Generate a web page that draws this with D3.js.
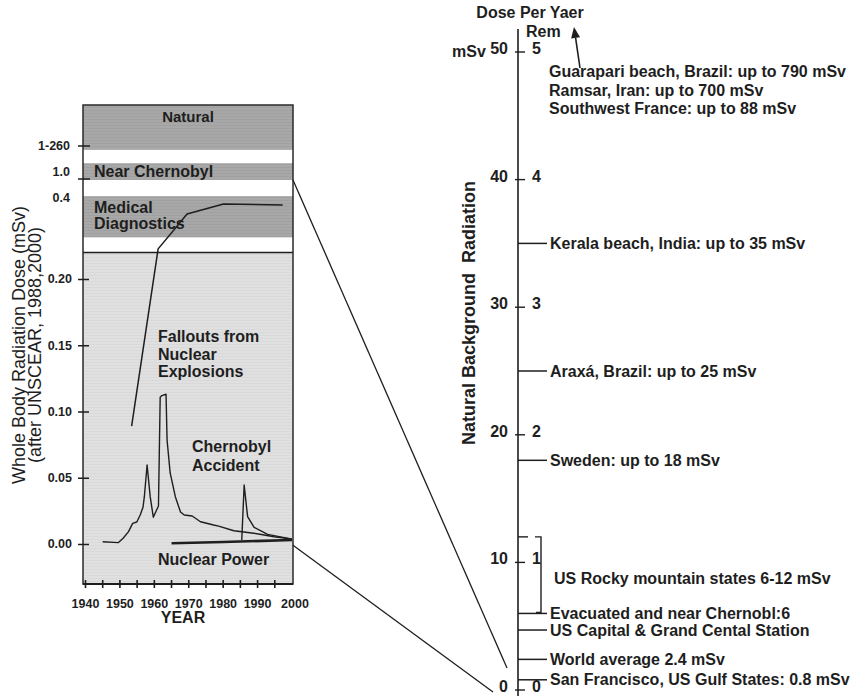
<!DOCTYPE html>
<html><head><meta charset="utf-8">
<script src="https://cdn.jsdelivr.net/npm/d3@7"></script>
<style>
body{margin:0;background:#fff}
svg{display:block;font-family:"Liberation Sans",Arial,Helvetica,sans-serif}
text{fill:#1e1e1e}
</style></head><body>
<svg id="c" width="856" height="696"></svg>
<script>
// ---------- DATA ----------
// Left panel: whole body dose (mSv) by year
const falloutYears = [1945, 1949.5, 1951, 1952.5, 1953.7, 1954.9, 1955.9, 1956.7, 1957.1, 1957.9, 1958.8, 1959.7, 1961.2, 1961.7, 1962.2, 1963.4, 1963.7, 1964.6, 1966.1, 1967.6, 1968.7, 1971, 1973.4, 1975.5, 1977.2, 1978.7, 1983.1, 1988.9, 1994.8, 2000];
const falloutDose  = [0.0017, 0.001, 0.0045, 0.0093, 0.0156, 0.0166, 0.0219, 0.0277, 0.0357, 0.0596, 0.0357, 0.0202, 0.0287, 0.1107, 0.112, 0.113, 0.0785, 0.0536, 0.0357, 0.0242, 0.0219, 0.0211, 0.0168, 0.0155, 0.0143, 0.0135, 0.0100, 0.0081, 0.0055, 0.0038];
const chernobylYears = [1985.4, 1986.1, 1987.1, 1989.0, 1992.9, 1997.8, 2000];
const chernobylDose  = [0.003, 0.0445, 0.0206, 0.0126, 0.0073, 0.0048, 0.0035];
const nuclearYears = [1965, 1980, 2000];
const nuclearDose  = [0.0005, 0.0015, 0.003];
const medicalYears = [1953.4, 1961.1, 1966.1, 1969.5, 1980.1, 1997.3];
const medicalDose  = [0.089, 0.232, 0.300, 0.347, 0.380, 0.377];
// Upper (broken-scale) dose bands
const bandNames = ["Natural", "Near Chernobyl", "Medical Diagnostics"];
const bandLo = [230, 0.97, 0.27];
const bandHi = [1000, 125, 0.46];
const lowerTicks = [0, 0.05, 0.10, 0.15, 0.20];
const upperTickValues = [260, 1.0, 0.4];
const upperTickLabels = ["1-260", "1.0", "0.4"];
const yearTicks = [1940, 1945, 1950, 1955, 1960, 1965, 1970, 1975, 1980, 1985, 1990, 1995];
const yearLabels = [1940, 1950, 1960, 1970, 1980, 1990, 2000];
// Right panel: natural background radiation (mSv per year)
const doseTicks = [0, 10, 20, 30, 40, 50];
const remLabels = ["0", "1", "2", "3", "4", "5"];
const siteNames = ["Kerala beach, India: up to 35 mSv", "Araxá, Brazil: up to 25 mSv", "Sweden: up to 18 mSv", "Evacuated and near Chernobl:6", "US Capital & Grand Cental Station", "World average 2.4 mSv", "San Francisco, US Gulf States: 0.8 mSv"];
const siteDose = [35, 25, 18, 6, 4.7, 2.4, 0.8];
const rockyRange = [6, 12];
const rockyLabel = "US Rocky mountain states 6-12 mSv";
const offScaleNotes = ["Guarapari beach, Brazil: up to 790 mSv", "Ramsar, Iran: up to 700 mSv", "Southwest France: up to 88 mSv"];

// ---------- SCALES ----------
const svg = d3.select("#c");
const ink = "#1e1e1e";
const xL = d3.scaleLinear().domain([1940, 2000]).range([85.5, 292]);
const yL = d3.scaleLinear().domain([-0.0302, 0.22, 0.4, 1.0, 260, 1000]).range([584, 252.5, 198, 179, 146, 105]);
const yR = d3.scaleLinear().domain([0, 50]).range([690, 52]);
const boxL = 83, boxR = 293;

// patterns
const defs = svg.append("defs");
function stripe(id, base, line) {
  const p = defs.append("pattern").attr("id", id).attr("width", 4).attr("height", 3).attr("patternUnits", "userSpaceOnUse");
  p.append("rect").attr("width", 4).attr("height", 3).attr("fill", base);
  p.append("rect").attr("y", 2).attr("width", 4).attr("height", 1).attr("fill", line);
}
stripe("lowP", "#e0e0e0", "#d9d9d9");
stripe("bandP", "#a8a8a8", "#a0a0a0");

// ---------- LEFT PANEL ----------
const left = svg.append("g");
left.append("rect").attr("x", boxL).attr("y", yL(1000)).attr("width", boxR - boxL).attr("height", yL(0.22) - yL(1000)).attr("fill", "#fff");
left.selectAll("rect.band").data(bandNames).join("rect").attr("class", "band")
  .attr("x", boxL).attr("width", boxR - boxL)
  .attr("y", (d, i) => yL(bandHi[i])).attr("height", (d, i) => yL(bandLo[i]) - yL(bandHi[i]))
  .attr("fill", "url(#bandP)");
left.append("rect").attr("x", boxL).attr("y", yL(0.22)).attr("width", boxR - boxL).attr("height", yL(-0.0302) - yL(0.22)).attr("fill", "url(#lowP)");
left.append("line").attr("x1", boxL).attr("x2", boxR).attr("y1", yL(0.22)).attr("y2", yL(0.22)).attr("stroke", ink).attr("stroke-width", 1.5);

// lines
const line = d3.line().x(d => xL(d[0])).y(d => yL(d[1]));
function series(xs, ys, w) {
  left.append("path").datum(xs.map((x, i) => [x, ys[i]])).attr("d", line)
    .attr("fill", "none").attr("stroke", ink).attr("stroke-width", w).attr("stroke-linejoin", "round");
}
series(nuclearYears, nuclearDose, 2.6);
series(falloutYears, falloutDose, 1.4);
series(chernobylYears, chernobylDose, 1.4);
series(medicalYears, medicalDose, 1.5);

// box border
left.append("rect").attr("x", boxL).attr("y", yL(1000)).attr("width", boxR - boxL).attr("height", yL(-0.0302) - yL(1000))
  .attr("fill", "none").attr("stroke", "#2a2a2a").attr("stroke-width", 1.5);
left.append("line").attr("x1", boxL).attr("x2", boxR).attr("y1", yL(-0.0302)).attr("y2", yL(-0.0302)).attr("stroke", ink).attr("stroke-width", 2.2);

// band labels
const bl = left.append("g").attr("font-weight", "bold");
bl.append("text").attr("x", (boxL + boxR) / 2).attr("y", 122).attr("text-anchor", "middle").attr("font-size", 15).text(bandNames[0]);
bl.append("text").attr("x", 94).attr("y", 177).attr("font-size", 16).text(bandNames[1]);
bl.append("text").attr("x", 94).attr("y", 212.5).attr("font-size", 16).text("Medical");
bl.append("text").attr("x", 94).attr("y", 229).attr("font-size", 16).text("Diagnostics");
bl.append("text").attr("x", 158).attr("y", 342).attr("font-size", 16).text("Fallouts from");
bl.append("text").attr("x", 158).attr("y", 359.5).attr("font-size", 16).text("Nuclear");
bl.append("text").attr("x", 158).attr("y", 377).attr("font-size", 16).text("Explosions");
bl.append("text").attr("x", 192).attr("y", 452).attr("font-size", 16).text("Chernobyl");
bl.append("text").attr("x", 192).attr("y", 470.5).attr("font-size", 16).text("Accident");
bl.append("text").attr("x", 158).attr("y", 565).attr("font-size", 16).text("Nuclear Power");

// left y axis
const ax = left.append("g").attr("transform", "translate(89,0)")
  .call(d3.axisLeft(yL).tickValues(lowerTicks).tickSize(11).tickPadding(6).tickFormat(d3.format(".2f")));
ax.select(".domain").remove();
ax.selectAll("line").attr("stroke", ink).attr("stroke-width", 1.5);
ax.selectAll("text").attr("font-size", 12.5).attr("font-weight", "bold").attr("font-family", "Liberation Sans, Arial, sans-serif").attr("fill", ink);
// upper labels
const up = left.append("g").attr("font-size", 12.5).attr("font-weight", "bold").attr("text-anchor", "end");
upperTickValues.forEach((v, i) => {
  const off = i === 0 ? 4 : (i === 1 ? -3 : 4);
  up.append("text").attr("x", 70).attr("y", yL(v) + off).text(upperTickLabels[i]);
  if (i < 2) left.append("line").attr("x1", 78).attr("x2", 90).attr("y1", yL(v)).attr("y2", yL(v)).attr("stroke", ink).attr("stroke-width", 1.5);
});

// x axis
left.selectAll("line.xt").data(yearTicks).join("line").attr("class", "xt")
  .attr("x1", d => xL(d)).attr("x2", d => xL(d)).attr("y1", 580).attr("y2", 588)
  .attr("stroke", ink).attr("stroke-width", 1.6);
left.selectAll("text.xl").data(yearLabels).join("text").attr("class", "xl")
  .attr("x", d => xL(d) + (d === 2000 ? 3 : 0)).attr("y", 607.5).attr("text-anchor", "middle")
  .attr("font-size", 12.5).attr("font-weight", "bold").text(d => d);
left.append("text").attr("x", 183).attr("y", 623).attr("text-anchor", "middle").attr("font-size", 16).attr("font-weight", "bold").text("YEAR");

// y titles
left.append("text").attr("transform", "translate(25,345) rotate(-90)").attr("text-anchor", "middle").attr("font-size", 18).text("Whole Body Radiation Dose (mSv)");
left.append("text").attr("transform", "translate(41,345) rotate(-90)").attr("text-anchor", "middle").attr("font-size", 18).text("(after UNSCEAR, 1988,2000)");

// ---------- CONNECTORS ----------
const axisX = 518;
svg.append("line").attr("x1", boxR).attr("y1", yL(0.97)).attr("x2", axisX - 11).attr("y2", yR(1.72)).attr("stroke", ink).attr("stroke-width", 1.3);
svg.append("line").attr("x1", boxR).attr("y1", yL(-0.001)).attr("x2", axisX - 25).attr("y2", yR(-0.16)).attr("stroke", ink).attr("stroke-width", 1.3);

// ---------- RIGHT PANEL ----------
const right = svg.append("g").attr("font-weight", "bold");
right.append("line").attr("x1", axisX).attr("x2", axisX).attr("y1", 29).attr("y2", 696).attr("stroke", ink).attr("stroke-width", 1.6);
right.selectAll("line.rt").data(doseTicks).join("line").attr("class", "rt")
  .attr("x1", axisX - 3).attr("x2", axisX + 7).attr("y1", d => yR(d)).attr("y2", d => yR(d)).attr("stroke", ink).attr("stroke-width", 1.4);
right.selectAll("text.ml").data(doseTicks).join("text").attr("class", "ml")
  .attr("x", 508).attr("y", d => yR(d) + 2).attr("text-anchor", "end").attr("font-size", 16).text(d => d);
right.selectAll("text.rl").data(doseTicks).join("text").attr("class", "rl")
  .attr("x", 532).attr("y", d => yR(d) + 2).attr("font-size", 16).text((d, i) => remLabels[i]);
right.append("text").attr("x", 452).attr("y", 57).attr("font-size", 16).text("mSv");
right.append("text").attr("x", 526).attr("y", 36.5).attr("font-size", 16).text("Rem");
right.append("text").attr("x", 530).attr("y", 18).attr("text-anchor", "middle").attr("font-size", 16).text("Dose Per Yaer");

// site markers
right.selectAll("line.site").data(siteDose).join("line").attr("class", "site")
  .attr("x1", axisX).attr("x2", axisX + 29).attr("y1", d => yR(d)).attr("y2", d => yR(d)).attr("stroke", ink).attr("stroke-width", 1.5);
right.selectAll("text.site").data(siteNames).join("text").attr("class", "site")
  .attr("x", 550).attr("y", (d, i) => yR(siteDose[i])).attr("dy", "0.35em").attr("font-size", 16).text(d => d);

// rocky bracket
right.append("line").attr("x1", axisX).attr("x2", axisX + 10).attr("y1", yR(rockyRange[1])).attr("y2", yR(rockyRange[1])).attr("stroke", ink).attr("stroke-width", 1.4);
right.append("path").attr("d", `M535,${yR(rockyRange[1])}H541V${yR(rockyRange[0]) - 1}H536`).attr("fill", "none").attr("stroke", ink).attr("stroke-width", 1.4);
right.append("text").attr("x", 554).attr("y", (yR(rockyRange[0]) + yR(rockyRange[1])) / 2 + 3).attr("dy", "0.35em").attr("font-size", 16).text(rockyLabel);

// off-scale notes + arrow
right.selectAll("text.note").data(offScaleNotes).join("text").attr("class", "note")
  .attr("x", 549).attr("y", (d, i) => 77 + i * 18.5).attr("font-size", 16).text(d => d);
const tail = [580, 68], tip = [574, 27];
const dx = tip[0] - tail[0], dy = tip[1] - tail[1], L = Math.hypot(dx, dy);
const ux = dx / L, uy = dy / L, hl = 11, hw = 4.5;
const bx = tip[0] - ux * hl, by = tip[1] - uy * hl;
right.append("line").attr("x1", tail[0]).attr("y1", tail[1]).attr("x2", bx).attr("y2", by).attr("stroke", ink).attr("stroke-width", 1.6);
right.append("path").attr("d", `M${tip[0]},${tip[1]}L${bx - uy * hw},${by + ux * hw}L${bx + uy * hw},${by - ux * hw}Z`).attr("fill", ink);

// vertical title
right.append("text").attr("transform", "translate(475,313) rotate(-90)").attr("text-anchor", "middle")
  .attr("font-size", 18).style("white-space", "pre").text("Natural Background  Radiation");
</script>
</body></html>
